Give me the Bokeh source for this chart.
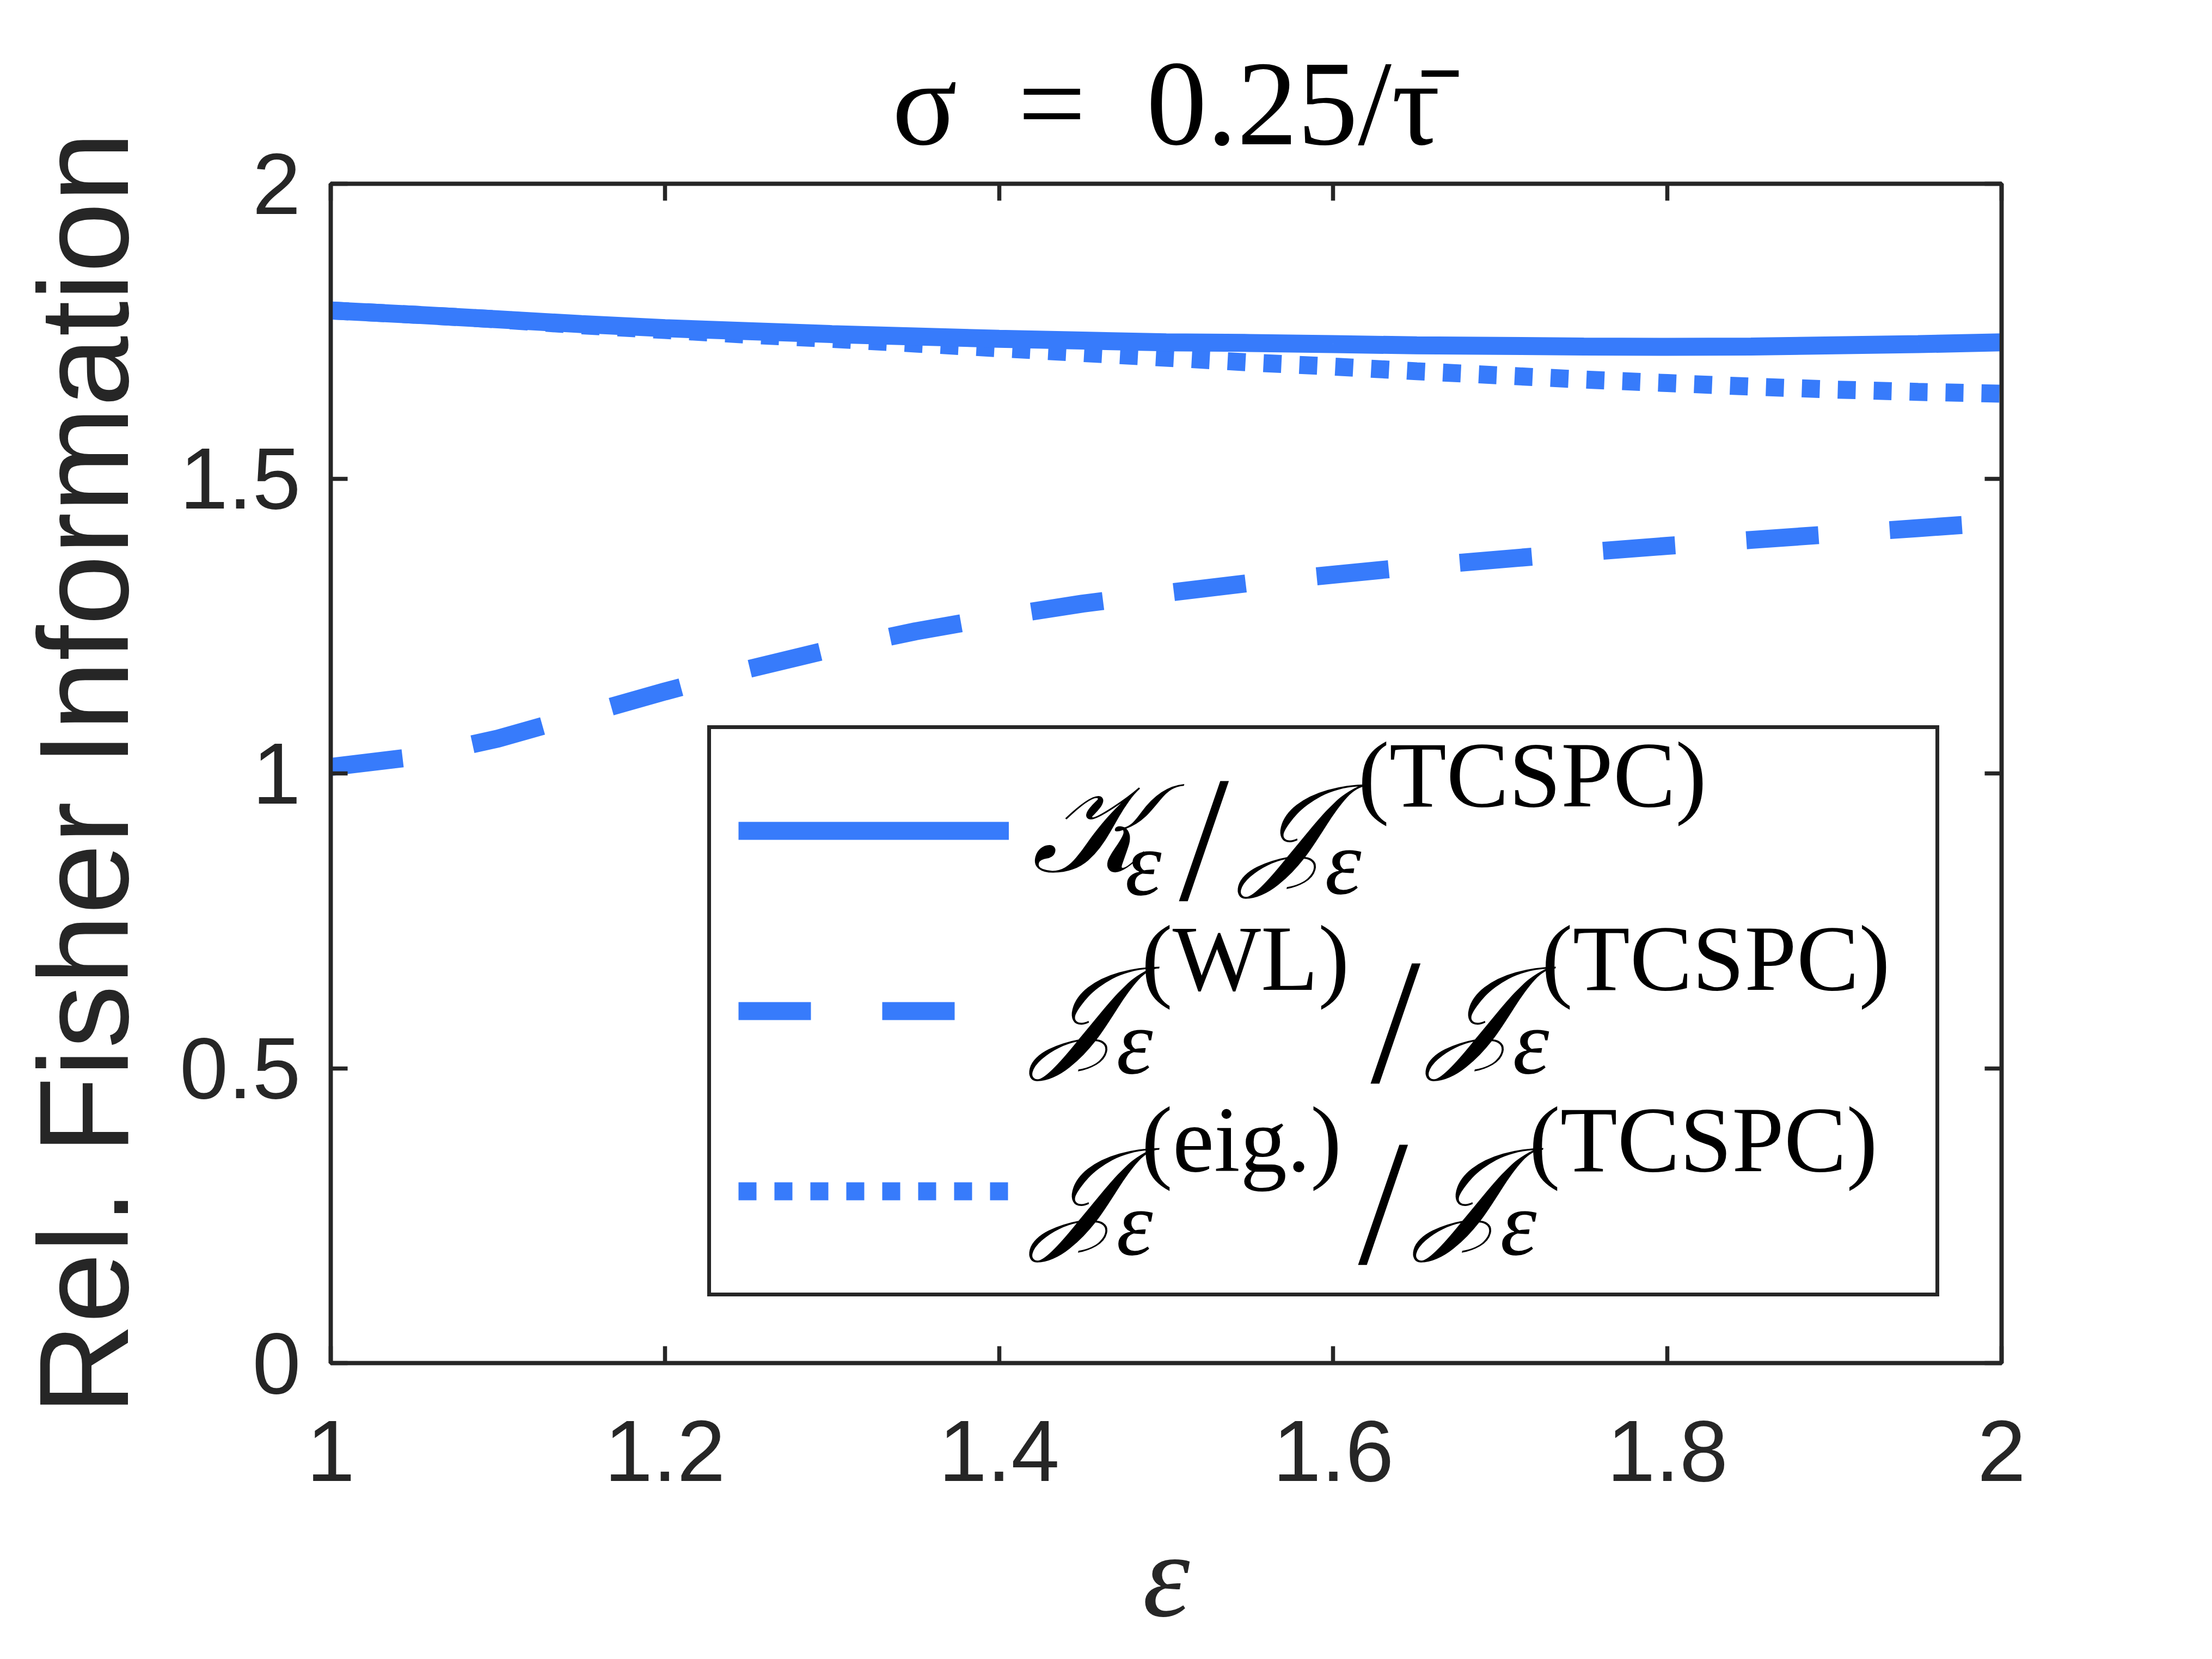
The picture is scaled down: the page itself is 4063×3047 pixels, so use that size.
from bokeh.plotting import figure
from bokeh.models import Range1d, LinearAxis, FixedTicker, Legend, LegendItem, Label
from bokeh.embed import file_html
from bokeh.resources import INLINE

# ---------------- data ----------------
eps = [1.00, 1.05, 1.10, 1.15, 1.20, 1.25, 1.30, 1.35, 1.40, 1.45, 1.50,
       1.55, 1.60, 1.65, 1.70, 1.75, 1.80, 1.85, 1.90, 1.95, 2.00]
k_ratio = [1.785, 1.778, 1.770, 1.762, 1.755, 1.750, 1.745, 1.741, 1.737, 1.734, 1.731,
           1.730, 1.728, 1.726, 1.725, 1.724, 1.7235, 1.724, 1.726, 1.728, 1.731]
wl_ratio = [1.011, 1.028, 1.059, 1.099, 1.139, 1.177, 1.211, 1.241, 1.266, 1.288, 1.306,
            1.323, 1.337, 1.351, 1.363, 1.375, 1.386, 1.396, 1.406, 1.416, 1.426]
eig_ratio = [1.785, 1.778, 1.770, 1.760, 1.752, 1.744, 1.737, 1.729, 1.721, 1.713, 1.705,
             1.697, 1.690, 1.682, 1.675, 1.668, 1.662, 1.656, 1.651, 1.647, 1.644]

x_ticks = [1, 1.2, 1.4, 1.6, 1.8, 2]
x_tick_labels = ["1", "1.2", "1.4", "1.6", "1.8", "2"]
y_ticks = [0, 0.5, 1, 1.5, 2]
y_tick_labels = ["0", "0.5", "1", "1.5", "2"]

title_text = "σ\u2002=\u20020.25/τ\u0304"
x_label = "ε"
y_label = "Rel. Fisher Information"

# ---------------- layout constants ----------------
W, H = 4063, 3047
FX0, FY0 = 607, 2503          # frame left / bottom in page pixels
FX1, FY1 = 3676, 337          # frame right / top
BLUE = "#377BFB"
AX = "#262626"
LW = 33

p = figure(width=W, height=H, x_range=Range1d(1, 2), y_range=Range1d(0, 2),
           output_backend="svg", toolbar_location=None,
           min_border_left=FX0, min_border_right=W - FX1,
           min_border_top=FY1, min_border_bottom=H - FY0,
           x_axis_label=x_label, y_axis_label=y_label)
p.background_fill_color = "white"
p.border_fill_color = "white"
p.outline_line_color = AX
p.outline_line_width = 7.5
p.xgrid.visible = False
p.ygrid.visible = False

p.title.text = title_text
p.title.text_font = "Liberation Serif"
p.title.text_font_size = "222px"
p.title.text_font_style = "normal"
p.title.text_color = "black"
p.title.align = "center"
p.title.standoff = 50


def style_axis(ax, ticks, labels, show):
    ax.ticker = FixedTicker(ticks=ticks)
    ax.major_label_overrides = {t: (l if show else "") for t, l in zip(ticks, labels)}
    ax.major_tick_in = 31
    ax.major_tick_out = 0
    ax.minor_tick_line_color = None
    ax.major_tick_line_width = 7.5
    ax.major_tick_line_color = AX
    ax.axis_line_width = 7.5
    ax.axis_line_color = AX
    ax.major_label_text_font = "Liberation Sans"
    ax.major_label_text_color = AX
    if show:
        ax.major_label_text_font_size = "160px"
    else:
        ax.major_label_text_font_size = "1px"
        ax.major_label_standoff = 0


xa = p.xaxis[0]
ya = p.yaxis[0]
style_axis(xa, x_ticks, x_tick_labels, True)
style_axis(ya, y_ticks, y_tick_labels, True)
xa.major_label_standoff = 106
ya.major_label_standoff = 55

xa.axis_label_text_font = "Liberation Serif"
xa.axis_label_text_font_style = "italic"
xa.axis_label_text_font_size = "220px"
xa.axis_label_text_color = AX
xa.axis_label_standoff = 49

ya.axis_label_text_font = "Liberation Sans"
ya.axis_label_text_font_style = "normal"
ya.axis_label_text_font_size = "233px"
ya.axis_label_text_color = AX
ya.axis_label_standoff = 43

top_ax = LinearAxis()
right_ax = LinearAxis()
style_axis(top_ax, x_ticks, x_tick_labels, False)
style_axis(right_ax, y_ticks, y_tick_labels, False)
p.add_layout(top_ax, "above")
p.add_layout(right_ax, "right")

# ---------------- curves ----------------
r_wl = p.line(eps, wl_ratio, line_color=BLUE, line_width=LW, line_dash="133 131")
r_eig = p.line(eps, eig_ratio, line_color=BLUE, line_width=LW, line_dash="33 33")
r_k = p.line(eps, k_ratio, line_color=BLUE, line_width=LW)

# ---------------- legend box + samples ----------------
legend = Legend(items=[LegendItem(label=" ", renderers=[r_k]),
                       LegendItem(label=" ", renderers=[r_wl]),
                       LegendItem(label=" ", renderers=[r_eig])],
                location=(692, 122), orientation="vertical",
                padding=50, spacing=58, margin=0,
                glyph_width=497, glyph_height=273,
                label_width=1652, label_height=273, label_standoff=0,
                label_text_font_size="20px",
                border_line_color=AX, border_line_width=7.5, border_line_alpha=1.0,
                background_fill_color="white", background_fill_alpha=0.0)
p.add_layout(legend)

# legend texts (math), positioned in screen units relative to the frame
SIZES = {"main": 230, "sub": 170, "sup": 172, "sl": 330}
LIFT = {"main": 82, "sub": 57, "sup": 72, "sl": 118}   # baseline compensation
STYLE = {"main": "italic", "sub": "italic", "sup": "normal", "sl": "normal"}


def put(text, px, py, kind):
    p.add_layout(Label(x=px - FX0, y=FY0 - (py - LIFT[kind]),
                       x_units="screen", y_units="screen",
                       text=text, text_font="Liberation Serif",
                       text_font_size=f"{SIZES[kind]}px",
                       text_font_style=STYLE[kind], text_color="black",
                       text_baseline="alphabetic", text_align="left",
                       level="overlay"))


CAL_K, CAL_J = "\U0001D4A6", "\U0001D4A5"

# row 1
put(CAL_K, 1894, 1605, "main")
put("ε", 2066, 1642, "sub")
put("/", 2165, 1658, "sl")
put(CAL_J, 2280, 1605, "main")
put("ε", 2433, 1640, "sub")
put("(TCSPC)", 2494, 1494, "sup")
# row 2
put(CAL_J, 1897, 1940, "main")
put("ε", 2050, 1970, "sub")
put("(WL)", 2096, 1831, "sup")
put("/", 2517, 1993, "sl")
put(CAL_J, 2625, 1940, "main")
put("ε", 2778, 1970, "sub")
put("(TCSPC)", 2831, 1831, "sup")
# row 3
put(CAL_J, 1897, 2273, "main")
put("ε", 2050, 2303, "sub")
put("(eig.)", 2096, 2164, "sup")
put("/", 2494, 2326, "sl")
put(CAL_J, 2602, 2273, "main")
put("ε", 2755, 2303, "sub")
put("(TCSPC)", 2808, 2164, "sup")

open("out.html", "w").write(file_html(p, INLINE))
